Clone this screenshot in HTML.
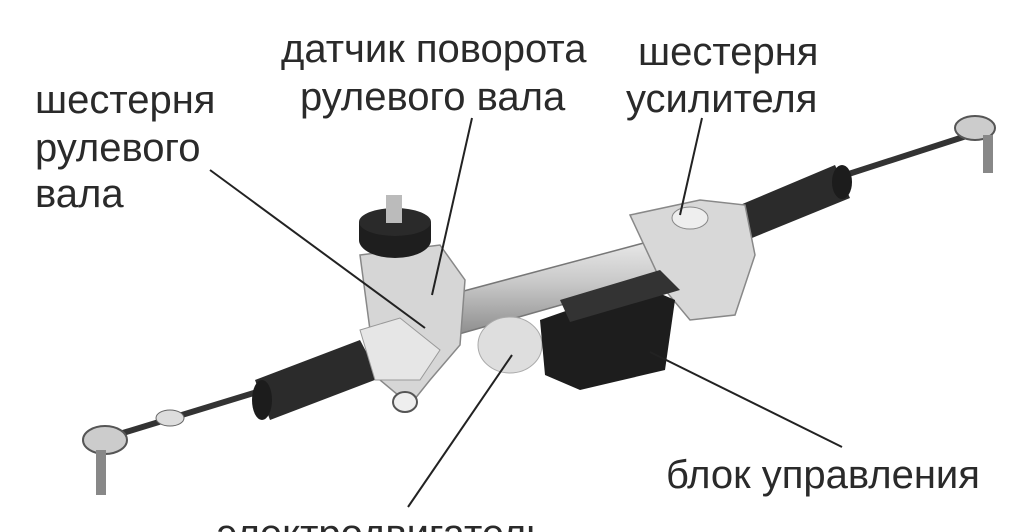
<!DOCTYPE html>
<html><head><meta charset="utf-8"><style>
body{margin:0;background:#fff;width:1024px;height:532px;overflow:hidden}
svg{display:block}
text{font-family:"Liberation Sans","DejaVu Sans",sans-serif;font-size:40px;fill:#2a2a2a}
</style></head><body>
<svg width="1024" height="532" viewBox="0 0 1024 532">
<defs>
<linearGradient id="m" x1="0" y1="0" x2="0" y2="1"><stop offset="0" stop-color="#f2f2f2"/><stop offset="0.5" stop-color="#c8c8c8"/><stop offset="1" stop-color="#8a8a8a"/></linearGradient>
</defs>
<line x1="100" y1="440" x2="270" y2="388" stroke="#333" stroke-width="6"/>
<line x1="830" y1="180" x2="985" y2="130" stroke="#333" stroke-width="6"/>
<ellipse cx="105" cy="440" rx="22" ry="14" fill="#ccc" stroke="#555" stroke-width="2"/>
<rect x="96" y="450" width="10" height="45" fill="#888"/>
<ellipse cx="170" cy="418" rx="14" ry="8" fill="#ddd" stroke="#666"/>
<ellipse cx="975" cy="128" rx="20" ry="12" fill="#ccc" stroke="#555" stroke-width="2"/>
<rect x="983" y="135" width="10" height="38" fill="#888"/>
<polygon points="255,380 360,340 380,378 270,420" fill="#2b2b2b"/>
<ellipse cx="262" cy="400" rx="10" ry="20" fill="#1c1c1c"/>
<polygon points="740,205 835,165 850,198 752,238" fill="#2b2b2b"/>
<ellipse cx="842" cy="182" rx="10" ry="17" fill="#1c1c1c"/>
<polygon points="430,300 700,228 712,262 445,338" fill="url(#m)" stroke="#777" stroke-width="1.5"/>
<polygon points="630,215 700,200 745,205 755,255 735,315 690,320 665,290" fill="#d8d8d8" stroke="#888" stroke-width="1.5"/>
<ellipse cx="690" cy="218" rx="18" ry="11" fill="#eee" stroke="#888"/>
<polygon points="360,255 440,245 465,280 460,345 430,380 410,405 380,380 370,330" fill="#d6d6d6" stroke="#888" stroke-width="1.5"/>
<polygon points="360,330 400,318 440,350 420,380 375,380" fill="#e6e6e6" stroke="#999"/>
<ellipse cx="405" cy="402" rx="12" ry="10" fill="#eee" stroke="#555" stroke-width="2"/>
<ellipse cx="395" cy="240" rx="36" ry="18" fill="#1e1e1e"/>
<rect x="359" y="222" width="72" height="18" fill="#1e1e1e"/>
<ellipse cx="395" cy="222" rx="36" ry="14" fill="#2a2a2a"/>
<rect x="386" y="195" width="16" height="28" fill="#bbb"/>
<ellipse cx="510" cy="345" rx="32" ry="28" fill="#dedede" stroke="#aaa"/>
<polygon points="540,320 640,285 675,300 665,370 580,390 545,375" fill="#1d1d1d"/>
<polygon points="560,300 660,270 680,290 570,322" fill="#333"/>
<g stroke="#222" stroke-width="2">
<line x1="210" y1="170" x2="425" y2="328"/>
<line x1="472" y1="118" x2="432" y2="295"/>
<line x1="702" y1="118" x2="680" y2="215"/>
<line x1="842" y1="447" x2="650" y2="352"/>
<line x1="408" y1="507" x2="512" y2="355"/>
</g>
<text x="35" y="113">шестерня</text>
<text x="35" y="161">рулевого</text>
<text x="35" y="207">вала</text>
<text x="281" y="62">датчик поворота</text>
<text x="300" y="110">рулевого вала</text>
<text x="638" y="65">шестерня</text>
<text x="626" y="112">усилителя</text>
<text x="666" y="488">блок управления</text>
<text x="217" y="547">электродвигатель</text>
</svg>
</body></html>
